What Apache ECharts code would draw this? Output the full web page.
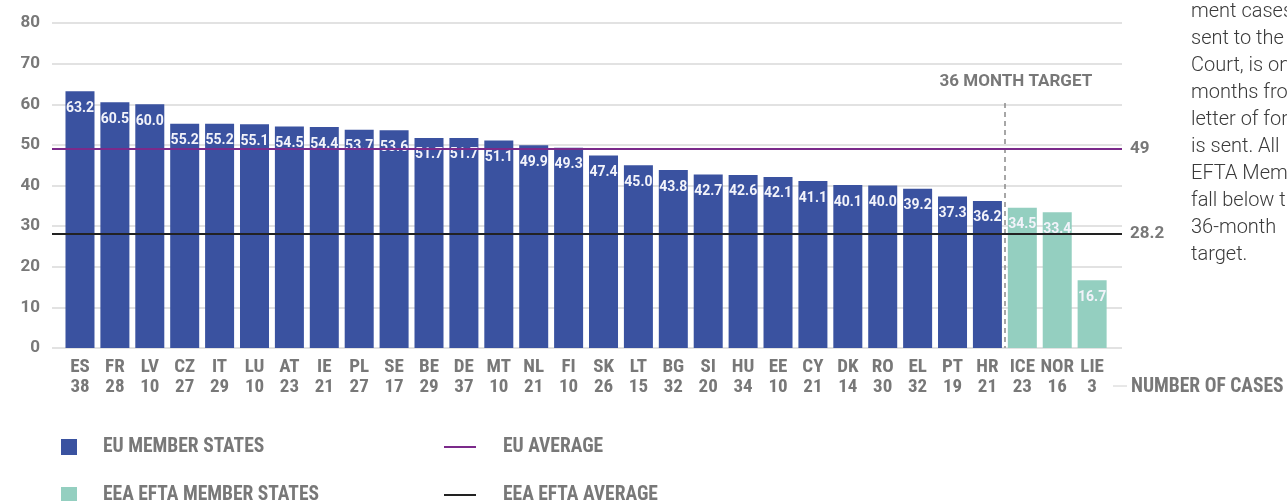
<!DOCTYPE html>
<html>
<head>
<meta charset="utf-8">
<script src="https://cdn.jsdelivr.net/npm/echarts@6/dist/echarts.min.js"></script>
<style>
  html, body { margin: 0; padding: 0; background: #fff; }
  #main { width: 1287px; height: 501px; }
</style>
</head>
<body>
<div id="main"></div>
<script>
var countries = ['ES','FR','LV','CZ','IT','LU','AT','IE','PL','SE','BE','DE','MT','NL','FI','SK','LT','BG','SI','HU','EE','CY','DK','RO','EL','PT','HR','ICE','NOR','LIE'];
var cases = [38,28,10,27,29,10,23,21,27,17,29,37,10,21,10,26,15,32,20,34,10,21,14,30,32,19,21,23,16,3];
var months = [63.2,60.5,60.0,55.2,55.2,55.1,54.5,54.4,53.7,53.6,51.7,51.7,51.1,49.9,49.3,47.4,45.0,43.8,42.7,42.6,42.1,41.1,40.1,40.0,39.2,37.3,36.2,34.5,33.4,16.7];
var euCount = 27; // first 27 are EU, the rest EEA EFTA
var euAverage = 49;
var eftaAverage = 28.2;
var yTicks = [0, 80, 10]; // min, max, interval
var noteLines = ['ment cases', 'sent to the', 'Court, is on', 'months from', 'letter of formal',
                 'is sent. All', 'EFTA Member', 'fall below the', '36-month', 'target.'];

var narrow = "'Roboto Condensed', 'Liberation Sans Narrow', 'DejaVu Sans Condensed', sans-serif";
var grey = '#787878';

var euData = [], eftaData = [];
months.forEach(function(v, i) {
    if (i < euCount) euData.push([i, v]);
    else eftaData.push([i, v]);
});

var barLabel = {
    show: true,
    position: 'insideTop',
    distance: 10,
    color: '#f2f3fa',
    fontFamily: 'Roboto, sans-serif',
    fontWeight: 'bold',
    fontSize: 14,
    formatter: function(p) { return p.value[1].toFixed(1); }
};

var avgLabel = {
    position: 'end',
    distance: 8,
    color: grey,
    fontFamily: 'Roboto, sans-serif',
    fontWeight: 'bold',
    fontSize: 17,
    formatter: '{c}'
};

var legendText = { color: grey, fontFamily: narrow, fontWeight: 'bold', fontSize: 19.5, lineHeight: 18 };

var chart = echarts.init(document.getElementById('main'));

var noteGraphic = noteLines.map(function(t, i) {
    return {
        type: 'text', left: 1191, top: 2 + i * 27, silent: true,
        style: { text: t, fill: '#3a3a3a', font: '300 20px Roboto, sans-serif' }
    };
});

var option = {
    animation: false,
    grid: { left: 52, right: 165, top: 23, bottom: 153 },
    xAxis: {
        type: 'value',
        min: -0.802,
        max: 29.856,
        splitLine: { show: false },
        axisLine: { show: false },
        axisTick: { show: false },
        axisLabel: {
            customValues: countries.map(function(c, i) { return i; }),
            formatter: function(v) { return countries[v] + '\n' + cases[v]; },
            margin: 9,
            color: grey,
            fontFamily: narrow,
            fontWeight: 'bold',
            fontSize: 19,
            lineHeight: 20
        }
    },
    yAxis: {
        type: 'value',
        min: yTicks[0],
        max: yTicks[1],
        interval: yTicks[2],
        axisLine: { show: false },
        axisTick: { show: false },
        axisLabel: {
            margin: 12,
            color: grey,
            fontFamily: 'Roboto, sans-serif',
            fontWeight: 'bold',
            fontSize: 17
        },
        splitLine: { lineStyle: { color: '#d8d8d8', width: 1.5 } }
    },
    legend: [{
        orient: 'vertical',
        left: 61, top: 437, height: 90, padding: 0,
        itemWidth: 16, itemHeight: 16, itemGap: 28,
        icon: 'rect',
        textStyle: Object.assign({ padding: [0, 0, 0, 21] }, legendText),
        data: ['EU MEMBER STATES', 'EEA EFTA MEMBER STATES']
    }, {
        orient: 'vertical',
        left: 444, top: 437, height: 90, padding: 0,
        itemWidth: 32, itemHeight: 2, itemGap: 28,
        icon: 'rect',
        textStyle: Object.assign({ padding: [0, 0, 0, 22] }, legendText),
        data: ['EU AVERAGE', 'EEA EFTA AVERAGE']
    }],
    graphic: [{
        type: 'line', silent: true,
        shape: { x1: 1113, y1: 386, x2: 1127, y2: 386 },
        style: { stroke: '#d0d0d0', lineWidth: 1 }
    }, {
        type: 'text', left: 1131, top: 377, silent: true,
        style: { text: 'NUMBER OF CASES', fill: grey, font: 'bold 19.5px ' + narrow }
    }].concat(noteGraphic),
    series: [{
        name: 'EU MEMBER STATES',
        type: 'bar',
        barWidth: 29,
        barGap: '-100%',
        itemStyle: { color: '#3a52a0' },
        label: barLabel,
        data: euData
    }, {
        name: 'EEA EFTA MEMBER STATES',
        type: 'bar',
        barWidth: 29,
        barGap: '-100%',
        itemStyle: { color: '#94cfc0' },
        label: barLabel,
        data: eftaData,
        markLine: {
            silent: true,
            symbol: 'none',
            lineStyle: { color: '#8a8a8a', type: [5, 4], width: 1.5 },
            label: {
                position: 'start',
                distance: 13,
                padding: [0, 0, 0, 22],
                color: grey,
                fontFamily: 'Roboto, sans-serif',
                fontWeight: 'bold',
                fontSize: 17,
                formatter: '36 MONTH TARGET'
            },
            data: [[{ coord: [euCount - 0.5, 60.3] }, { coord: [euCount - 0.5, 0] }]]
        }
    }, {
        name: 'EU AVERAGE',
        type: 'line',
        symbol: 'none',
        itemStyle: { color: '#7b2a8a' },
        lineStyle: { color: '#7b2a8a', width: 2 },
        data: [],
        markLine: {
            silent: true,
            symbol: 'none',
            lineStyle: { color: '#7b2a8a', width: 2, type: 'solid' },
            label: avgLabel,
            data: [{ yAxis: euAverage }]
        }
    }, {
        name: 'EEA EFTA AVERAGE',
        type: 'line',
        symbol: 'none',
        itemStyle: { color: '#222222' },
        lineStyle: { color: '#222222', width: 2 },
        data: [],
        markLine: {
            silent: true,
            symbol: 'none',
            lineStyle: { color: '#222222', width: 2, type: 'solid' },
            label: avgLabel,
            data: [{ yAxis: eftaAverage }]
        }
    }]
};

chart.setOption(option);
</script>
</body>
</html>
